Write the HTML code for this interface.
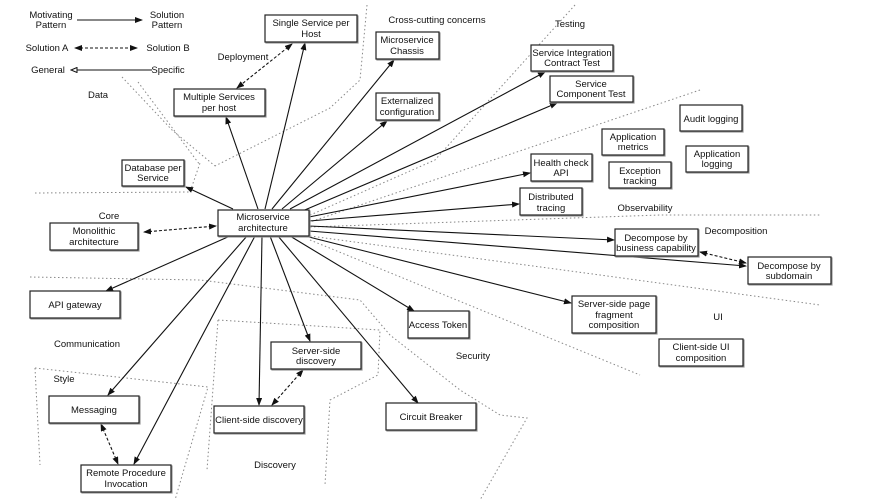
<!DOCTYPE html>
<html><head><meta charset="utf-8"><style>
html,body{margin:0;padding:0;background:#fff;}
svg{display:block;font-family:"Liberation Sans",Arial,sans-serif;}
text{font-size:9.5px;fill:#111;text-anchor:middle;}
.b{fill:#fff;stroke:#222;stroke-width:1.2;filter:drop-shadow(1px 1px 0 #999);}
.a{stroke:#111;stroke-width:1.1;fill:none;marker-end:url(#ah);}
.d{stroke:#111;stroke-width:1.1;fill:none;stroke-dasharray:3,2;marker-end:url(#ah);marker-start:url(#as);}
.p{stroke:#888;stroke-width:1;fill:none;stroke-dasharray:1.5,2.5;}
</style></head><body>
<svg width="875" height="502" viewBox="0 0 875 502">
<defs>
<marker id="ah" markerWidth="8" markerHeight="6" refX="7" refY="3" orient="auto" markerUnits="userSpaceOnUse"><path d="M0,0L8,3L0,6z" fill="#111"/></marker>
<marker id="as" markerWidth="8" markerHeight="6" refX="1" refY="3" orient="auto" markerUnits="userSpaceOnUse"><path d="M8,0L0,3L8,6z" fill="#111"/></marker>
<marker id="ot" markerWidth="8" markerHeight="6" refX="1" refY="3" orient="auto" markerUnits="userSpaceOnUse"><path d="M7,0.5L1,3L7,5.5z" fill="#fff" stroke="#111"/></marker>
</defs>
<!-- dotted region lines -->
<g class="p">
<polyline points="122,77 172,130 215,166"/>
<polyline points="138,82 200,165"/>
<polyline points="35,193 190,192 200,163"/>
<polyline points="367,5 360,80 330,108 215,166"/>
<polyline points="575,5 435,160 308,216"/>
<polyline points="700,90 310,222"/>
<polyline points="310,227 660,215 820,215"/>
<polyline points="310,236 600,275 820,305"/>
<polyline points="310,240 640,375"/>
<polyline points="30,277 200,280 360,300 390,335 460,390 500,415 527,418 480,500"/>
<polyline points="218,320 380,330 378,375 330,400 325,485"/>
<polyline points="218,320 207,470"/>
<polyline points="35,368 208,387 175,500"/>
<polyline points="35,368 40,465"/>
</g>
<!-- legend -->
<text x="51" y="18">Motivating</text><text x="51" y="28">Pattern</text>
<line class="a" x1="77" y1="20" x2="142" y2="20"/>
<text x="167" y="18">Solution</text><text x="167" y="28">Pattern</text>
<text x="47" y="51">Solution A</text>
<line class="d" x1="75" y1="48" x2="137" y2="48"/>
<text x="168" y="51">Solution B</text>
<text x="48" y="73">General</text>
<line x1="71" y1="70" x2="152" y2="70" stroke="#111" stroke-width="1.1" marker-start="url(#ot)"/>
<text x="168" y="73">Specific</text>
<!-- region labels -->
<text x="437" y="23">Cross-cutting concerns</text>
<text x="570" y="27">Testing</text>
<text x="243" y="60">Deployment</text>
<text x="98" y="98">Data</text>
<text x="109" y="219">Core</text>
<text x="645" y="211">Observability</text>
<text x="736" y="234">Decomposition</text>
<text x="718" y="320">UI</text>
<text x="87" y="347">Communication</text>
<text x="64" y="382">Style</text>
<text x="473" y="359">Security</text>
<text x="275" y="468">Discovery</text>
<!-- arrows -->
<line class="a" x1="258" y1="209" x2="226" y2="117"/>
<line class="a" x1="265" y1="209" x2="305" y2="43"/>
<line class="a" x1="272" y1="209" x2="394" y2="60"/>
<line class="a" x1="282" y1="209" x2="387" y2="121"/>
<line class="a" x1="290" y1="209" x2="545" y2="72"/>
<line class="a" x1="300" y1="212" x2="557" y2="103"/>
<line class="a" x1="309" y1="217" x2="530" y2="173"/>
<line class="a" x1="309" y1="221" x2="519" y2="204"/>
<line class="a" x1="309" y1="226" x2="614" y2="240"/>
<line class="a" x1="309" y1="231" x2="746" y2="266"/>
<line class="a" x1="305" y1="236" x2="571" y2="303"/>
<line class="a" x1="233" y1="209" x2="186" y2="187"/>
<line class="a" x1="230" y1="236" x2="106" y2="291"/>
<line class="a" x1="247" y1="236" x2="108" y2="395"/>
<line class="a" x1="255" y1="236" x2="134" y2="464"/>
<line class="a" x1="262" y1="236" x2="259" y2="405"/>
<line class="a" x1="270" y1="236" x2="310" y2="341"/>
<line class="a" x1="278" y1="236" x2="418" y2="403"/>
<line class="a" x1="290" y1="236" x2="414" y2="311"/>
<line class="d" x1="292" y1="44" x2="237" y2="88"/>
<line class="d" x1="144" y1="232" x2="216" y2="226"/>
<line class="d" x1="700" y1="252" x2="746" y2="263"/>
<line class="d" x1="303" y1="370" x2="272" y2="405"/>
<line class="d" x1="101" y1="424" x2="118" y2="464"/>
<!-- boxes -->
<g>
<rect class="b" x="265" y="15" width="92" height="27"/><text x="311" y="26">Single Service per</text><text x="311" y="37">Host</text>
<rect class="b" x="376" y="32" width="63" height="27"/><text x="407" y="43">Microservice</text><text x="407" y="54">Chassis</text>
<rect class="b" x="174" y="89" width="91" height="27"/><text x="219" y="100">Multiple Services</text><text x="219" y="111">per host</text>
<rect class="b" x="376" y="93" width="63" height="27"/><text x="407" y="104">Externalized</text><text x="407" y="115">configuration</text>
<rect class="b" x="531" y="45" width="82" height="26"/><text x="572" y="56">Service Integration</text><text x="572" y="66">Contract Test</text>
<rect class="b" x="550" y="76" width="83" height="26"/><text x="591" y="87">Service</text><text x="591" y="97">Component Test</text>
<rect class="b" x="680" y="105" width="62" height="26"/><text x="711" y="122">Audit logging</text>
<rect class="b" x="602" y="129" width="62" height="26"/><text x="633" y="140">Application</text><text x="633" y="150">metrics</text>
<rect class="b" x="686" y="146" width="62" height="26"/><text x="717" y="157">Application</text><text x="717" y="167">logging</text>
<rect class="b" x="531" y="154" width="61" height="27"/><text x="561" y="166">Health check</text><text x="561" y="176">API</text>
<rect class="b" x="609" y="162" width="62" height="26"/><text x="640" y="174">Exception</text><text x="640" y="184">tracking</text>
<rect class="b" x="520" y="188" width="62" height="27"/><text x="551" y="200">Distributed</text><text x="551" y="211">tracing</text>
<rect class="b" x="122" y="160" width="62" height="26"/><text x="153" y="171">Database per</text><text x="153" y="181">Service</text>
<rect class="b" x="218" y="210" width="91" height="26"/><text x="263" y="220">Microservice</text><text x="263" y="231">architecture</text>
<rect class="b" x="50" y="223" width="88" height="27"/><text x="94" y="234">Monolithic</text><text x="94" y="245">architecture</text>
<rect class="b" x="615" y="229" width="83" height="27"/><text x="656" y="241">Decompose by</text><text x="656" y="251">business capability</text>
<rect class="b" x="748" y="257" width="83" height="27"/><text x="789" y="269">Decompose by</text><text x="789" y="279">subdomain</text>
<rect class="b" x="30" y="291" width="90" height="27"/><text x="75" y="308">API gateway</text>
<rect class="b" x="572" y="296" width="84" height="37"/><text x="614" y="307">Server-side page</text><text x="614" y="318">fragment</text><text x="614" y="328">composition</text>
<rect class="b" x="408" y="311" width="61" height="27"/><text x="438" y="328">Access Token</text>
<rect class="b" x="659" y="339" width="84" height="27"/><text x="701" y="350">Client-side  UI</text><text x="701" y="361">composition</text>
<rect class="b" x="271" y="342" width="90" height="27"/><text x="316" y="354">Server-side</text><text x="316" y="364">discovery</text>
<rect class="b" x="49" y="396" width="90" height="27"/><text x="94" y="413">Messaging</text>
<rect class="b" x="214" y="406" width="90" height="27"/><text x="259" y="423">Client-side discovery</text>
<rect class="b" x="386" y="403" width="90" height="27"/><text x="431" y="420">Circuit Breaker</text>
<rect class="b" x="81" y="465" width="90" height="27"/><text x="126" y="476">Remote Procedure</text><text x="126" y="487">Invocation</text>
</g>
</svg>
</body></html>
